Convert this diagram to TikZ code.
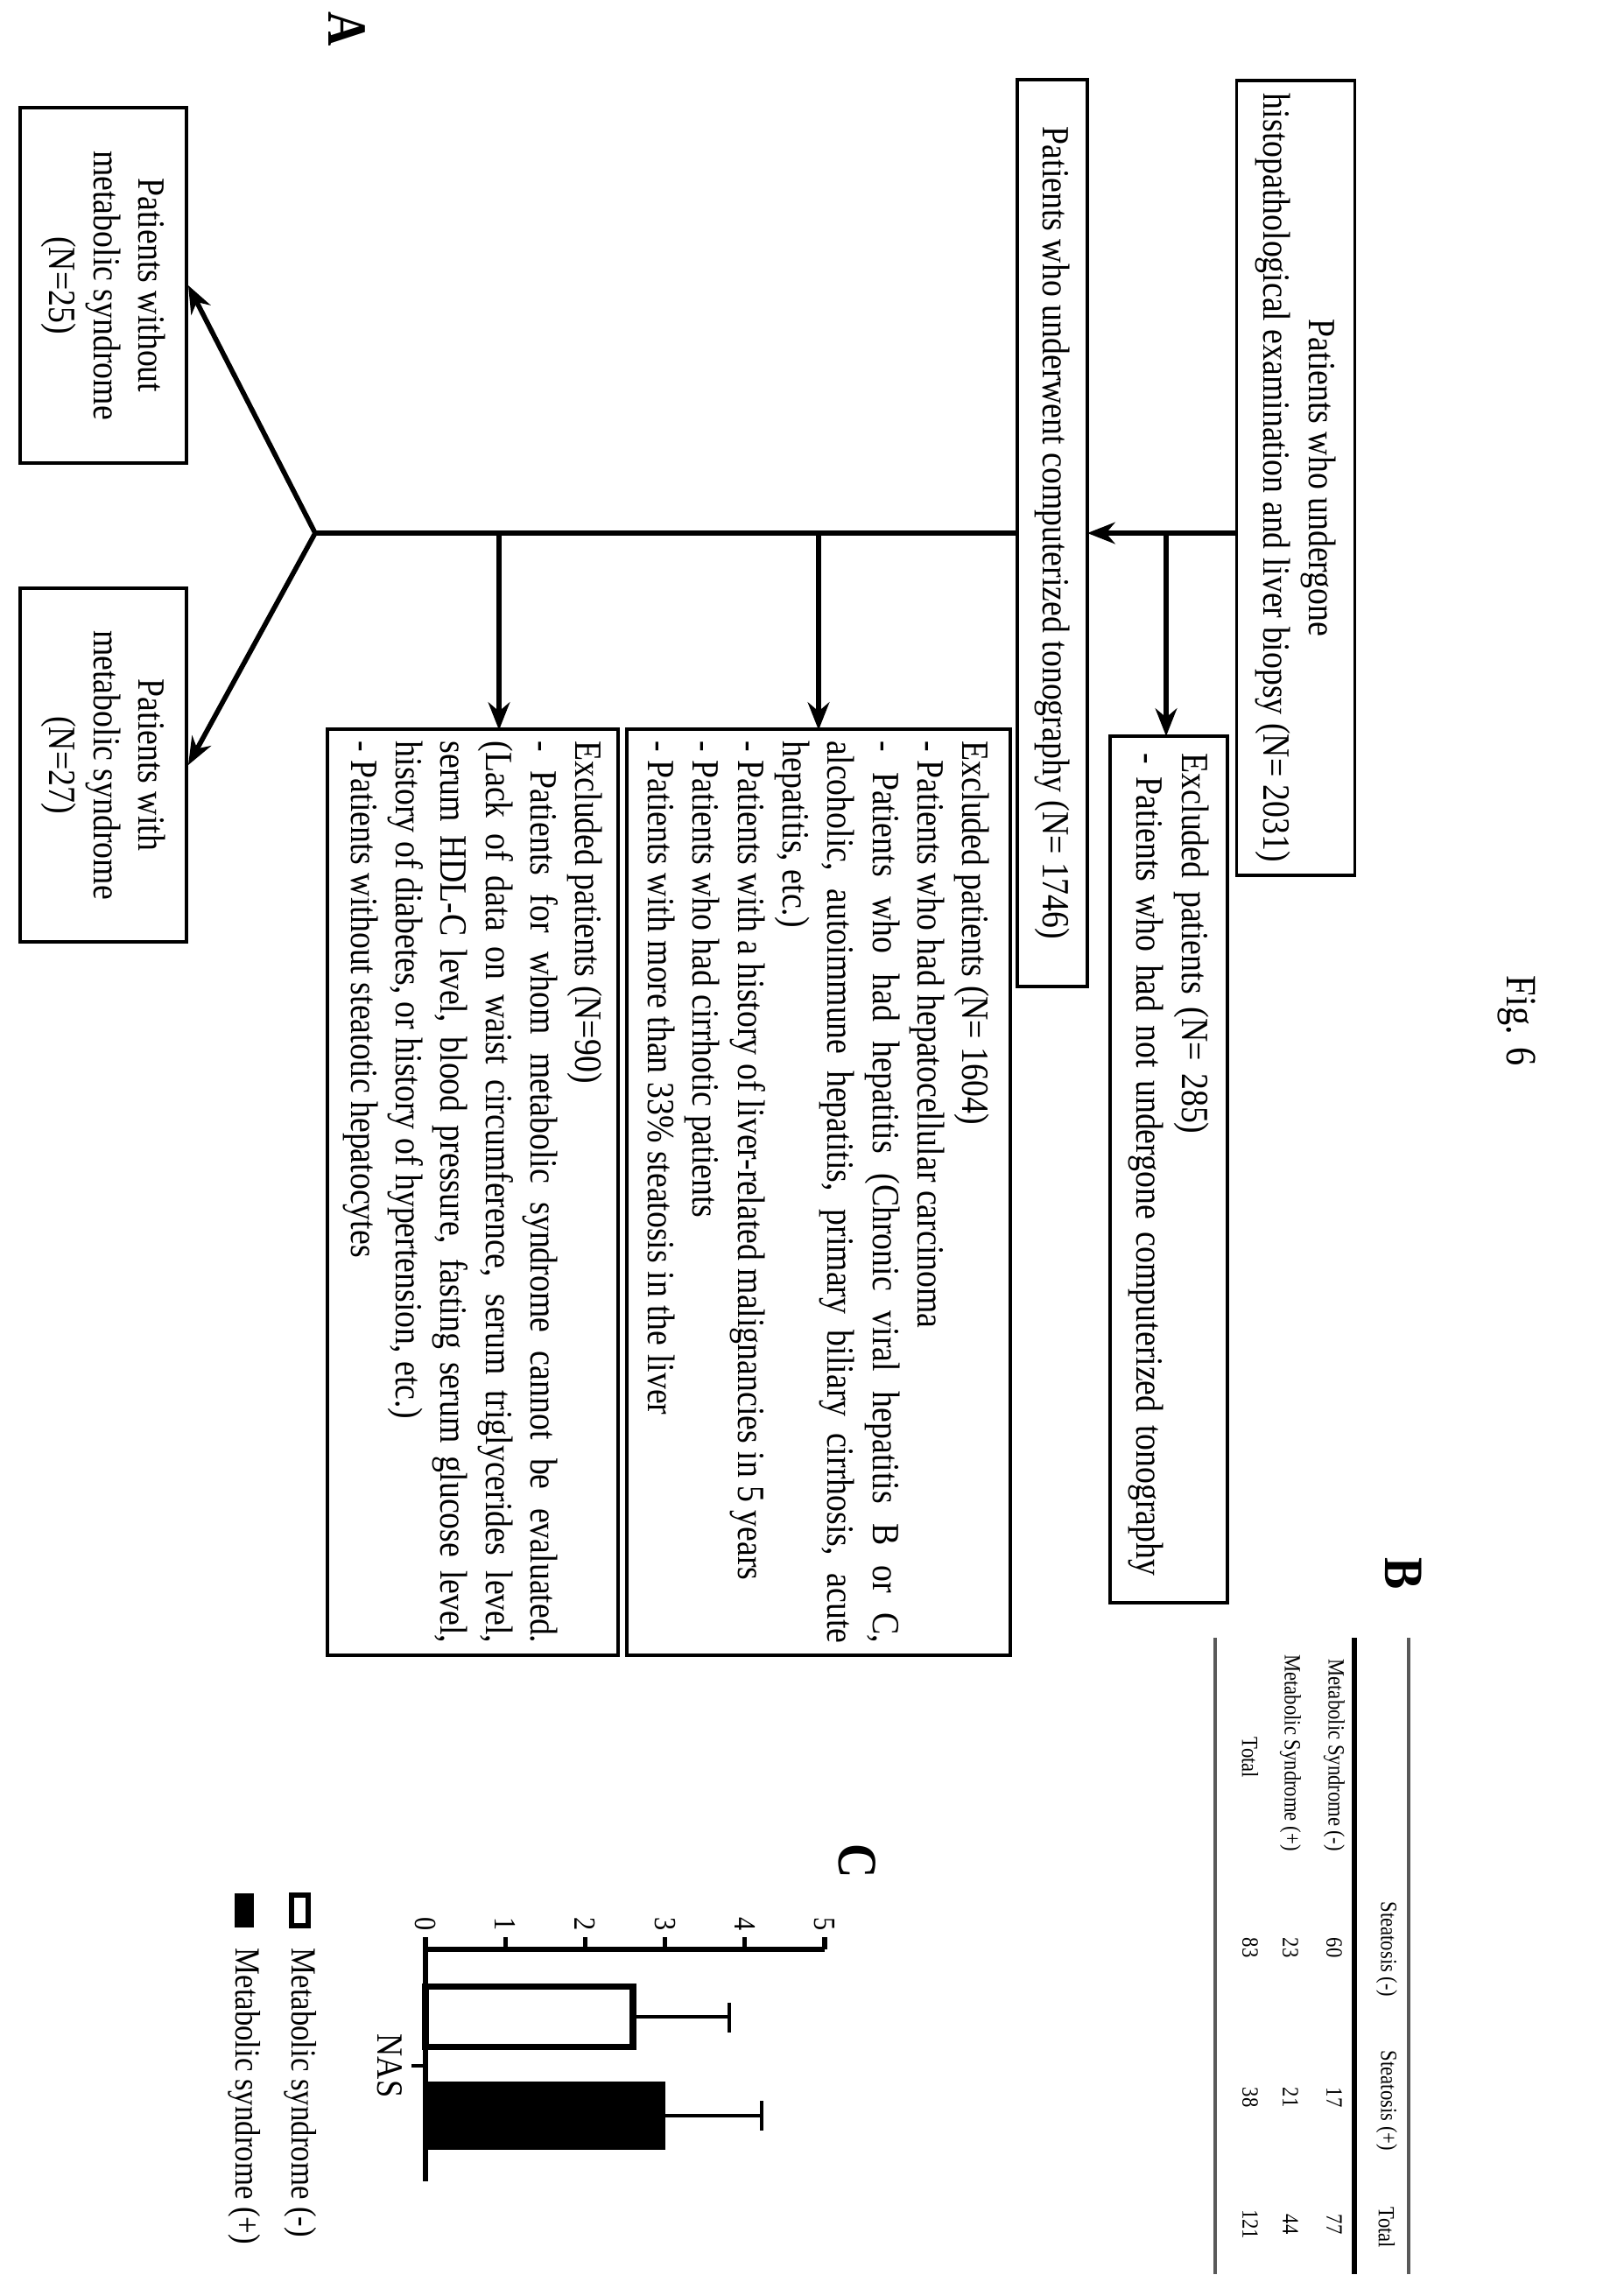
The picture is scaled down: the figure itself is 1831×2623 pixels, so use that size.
\documentclass[tikz,border=0pt]{standalone}
\usepackage{fontspec}
\setmainfont{Liberation Serif}[FakeStretch=0.86]
\usetikzlibrary{arrows.meta}

\begin{document}
\begin{tikzpicture}[
    x=0.01cm, y=0.01cm,
    box/.style={draw, line width=1.1pt, inner sep=4pt, transform shape},
    txt/.style={font=\fontsize{12.5}{14.6}\selectfont},
    list/.style={txt, text width=10.3cm, align=justify, execute at begin node={\hyphenpenalty=10000 \tolerance=9999 }},
    small/.style={transform shape, font=\fontsize{7.5}{9}\selectfont},
    arr/.style={line width=1.6pt, -{Stealth[length=9pt,width=7pt]}},
    panel/.style={transform shape, font=\fontsize{18}{20}\selectfont\bfseries}
]
\useasboundingbox (0,0) rectangle (1831,-2623);
\begin{scope}[rotate=-90]
    % flow chart
    \node (biopsy) [box, txt, minimum width=9.08cm, minimum height=1.35cm, align=center] at (546,1480)
        {Patients who undergone\\histopathological examination and liver biopsy (N= 2031)};
    \node (ct) [box, txt, minimum width=10.35cm, minimum height=0.8cm] at (609,1202)
        {Patients who underwent computerized tonography (N= 1746)};
    \node (ex285) [box, txt, minimum width=9.9cm, minimum height=1.34cm, text width=9.5cm, align=left] at (1336,1335)
        {Excluded patients (N= 285)\\- Patients who had not undergone computerized tonography};
    \node (ex1604) [box, list, minimum width=10.56cm, minimum height=4.37cm] at (1362,935)
        {Excluded patients (N= 1604)\\
         - Patients who had hepatocellular carcinoma\\
         - Patients who had hepatitis (Chronic viral hepatitis B or C,\linebreak
         alcoholic, autoimmune hepatitis, primary biliary cirrhosis, acute\linebreak
         hepatitis, etc.)\\
         - Patients with a history of liver-related malignancies in 5 years\\
         - Patients who had cirrhotic patients\\
         - Patients with more than 33\% steatosis in the liver};
    \node (ex90) [box, list, minimum width=10.56cm, minimum height=3.31cm] at (1362,540)
        {Excluded patients (N=90)\\
         - Patients for whom metabolic syndrome cannot be evaluated.\linebreak
         (Lack of data on waist circumference, serum triglycerides level,\linebreak
         serum HDL-C level, blood pressure, fasting serum glucose level,\linebreak
         history of diabetes, or history of hypertension, etc.)\\
         - Patients without steatotic hepatocytes};
    \node (nomets) [box, txt, minimum width=4.06cm, minimum height=1.9cm, align=center] at (326,118)
        {Patients without\\metabolic syndrome\\(N=25)};
    \node (mets) [box, txt, minimum width=4.03cm, minimum height=1.9cm, align=center] at (874,118)
        {Patients with\\metabolic syndrome\\(N=27)};

    \coordinate (bt) at (609,1413);
    \coordinate (ctn) at (609,1242);
    \coordinate (trunk) at (609,1332);
    \coordinate (x285) at (841,1332);
    \coordinate (cts) at (609,1162);
    \coordinate (split) at (609,360);
    \coordinate (cut1) at (609,935);
    \coordinate (x1604) at (834,935);
    \coordinate (cut2) at (609,570);
    \coordinate (x90) at (834,570);

    \draw[arr] (bt) -- (ctn);
    \draw[arr] (trunk) -- (x285);
    \draw[line width=1.8pt] (cts) -- (split);
    \draw[arr] (cut1) -- (x1604);
    \draw[arr] (cut2) -- (x90);
    \draw[arr] (split) -- (nomets.north);
    \draw[arr] (split) -- (mets.north);

    % panel labels
    \node (labA) [panel] at (33,396) {A};
    \node (fig) [transform shape, font=\fontsize{14}{16}\selectfont] at (1166,1732) {Fig. 6};
    \node (labB) [panel] at (1798,1603) {B};
    \node (labC) [panel] at (2126,979) {C};

    % table
    \draw[line width=1.3pt, gray!70!black] (1871,1609) -- (2598,1609);
    \draw[line width=1.6pt] (1871,1547) -- (2598,1547);
    \draw[line width=1.1pt, gray!70!black] (1871,1388) -- (2598,1388);
    \node (hd1) [small] at (2227,1584) {Steatosis (-)};
    \node (hd2) [small] at (2400,1584) {Steatosis (+)};
    \node (hd3) [small] at (2545,1584) {Total};
    \node (rw1) [small, anchor=east] at (2127,1524) {Metabolic Syndrome (-)};
    \node (rw2) [small, anchor=east] at (2127,1474) {Metabolic Syndrome (+)};
    \node (rw3) [small] at (2008,1428) {Total};
    \node [small] at (2225,1524) {60};
    \node [small] at (2396,1524) {17};
    \node [small] at (2541,1524) {77};
    \node [small] at (2225,1474) {23};
    \node [small] at (2396,1474) {21};
    \node [small] at (2541,1474) {44};
    \node [small] at (2225,1428) {83};
    \node [small] at (2396,1428) {38};
    \node [small] at (2541,1428) {121};

    % bar chart
    \draw[line width=1.5pt] (2227,486) -- (2227,942);
    \draw[line width=1.5pt] (2213,486) -- (2492,486);
    \foreach \k in {0,...,5} {
        \draw[line width=1.5pt] (2213,486+91.2*\k) -- (2227,486+91.2*\k);
        \node [transform shape, font=\fontsize{10}{12}\selectfont, anchor=east, inner sep=1pt] at (2210,486+91.2*\k) {\k};
    }
    \draw[line width=1.2pt] (2360,486) -- (2360,470);
    \node (nas) [transform shape, font=\fontsize{12}{14}\selectfont] at (2360,445) {NAS};
    \draw[line width=1pt] (2304,723) -- (2304,833);
    \draw[line width=1pt] (2288,833) -- (2322,833);
    \draw[line width=1pt] (2417,758) -- (2417,870);
    \draw[line width=1pt] (2400,870) -- (2434,870);
    \draw[line width=2pt, fill=white] (2269,486) rectangle (2338,723);
    \draw[line width=1pt, fill=black] (2380,486) rectangle (2454,758);

    % legend
    \draw[line width=1.8pt] (2165,333) rectangle (2200,352);
    \fill (2163,268) rectangle (2202,290);
    \node (lg1) [transform shape, font=\fontsize{11.5}{13}\selectfont, anchor=west, inner sep=0pt] at (2225,343) {Metabolic syndrome (-)};
    \node (lg2) [transform shape, font=\fontsize{11.5}{13}\selectfont, anchor=west, inner sep=0pt] at (2225,279) {Metabolic syndrome (+)};
\end{scope}
\end{tikzpicture}
\end{document}
